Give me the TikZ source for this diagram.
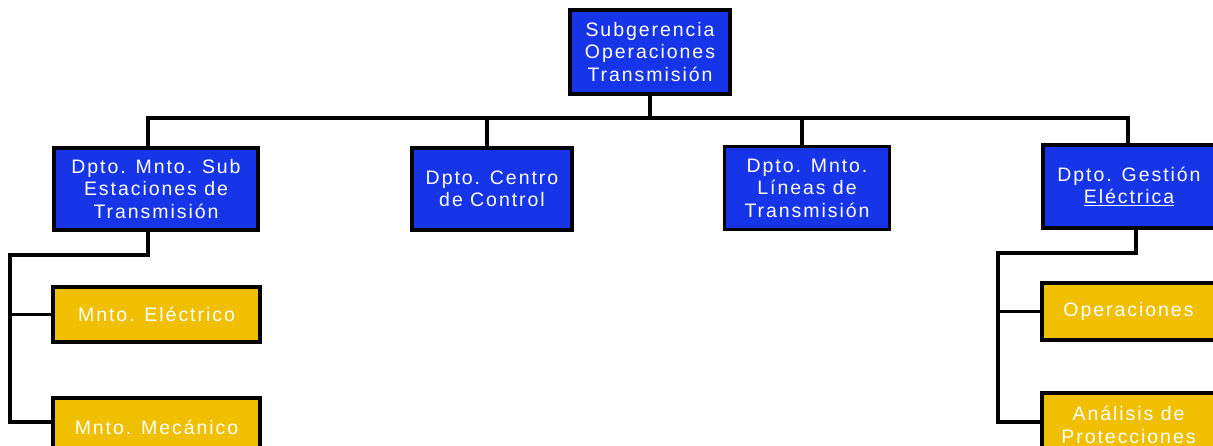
\documentclass[tikz,border=0pt]{standalone}
\usepackage{fontspec}
\setmainfont{Liberation Sans}[LetterSpace=10]
\definecolor{boxblue}{RGB}{22,52,232}
\definecolor{boxyellow}{RGB}{240,192,0}
\begin{document}
\begin{tikzpicture}[x=1pt,y=-1pt,
  box/.style={draw=black,line width=3.6pt,text=white,align=center,inner sep=0pt,
    font=\fontsize{19.5}{22.5}\selectfont},
  bluebox/.style={box,fill=boxblue},
  yellowbox/.style={box,fill=boxyellow},
  conn/.style={line width=3.2pt,line cap=rect}]
\useasboundingbox (0,0) rectangle (1213,446);
% nodes
\node[bluebox,minimum width=160,minimum height=84] (top) at (650,52) {Subgerencia\\Operaciones\\Transmisión};
\node[bluebox,minimum width=204,minimum height=82] (d1) at (156,189) {Dpto. Mnto. Sub\\Estaciones de\\Transmisión};
\node[bluebox,minimum width=160,minimum height=82] (d2) at (492,189) {Dpto. Centro\\de Control};
\node[bluebox,minimum width=165,minimum height=83] (d3) at (807,188) {Dpto. Mnto.\\Líneas de\\Transmisión};
\node[bluebox,minimum width=172,minimum height=83] (d4) at (1129,186.5) {Dpto. Gestión\\\underline{Eléctrica}};
\node[yellowbox,minimum width=207,minimum height=55] (y1) at (156.5,314.5) {Mnto. Eléctrico};
\node[yellowbox,minimum width=207,minimum height=58] (y2) at (156.5,427) {Mnto. Mecánico};
\node[yellowbox,minimum width=173,minimum height=57] (y3) at (1128.5,311.5) {Operaciones};
\node[yellowbox,minimum width=173,minimum height=64] (y4) at (1128.5,425) {Análisis de\\Protecciones};
% coordinates
\coordinate (bus) at (650,118);
\coordinate (s1) at (148,118);
\coordinate (s2) at (487,118);
\coordinate (s3) at (802,118);
\coordinate (s4) at (1128,118);
\coordinate (l1) at (148,255);
\coordinate (l2) at (10,255);
\coordinate (l3) at (10,422);
\coordinate (r1) at (1136,253);
\coordinate (r2) at (998,253);
\coordinate (r3) at (998,422);
% connectors
\draw[conn] (top.south) -- (bus);
\draw[conn] (s1) -- (s4);
\draw[conn] (s1) -- (s1 |- d1.north);
\draw[conn] (s2) -- (s2 |- d2.north);
\draw[conn] (s3) -- (s3 |- d3.north);
\draw[conn] (s4) -- (s4 |- d4.north);
\draw[conn] (l1 |- d1.south) -- (l1) -- (l2) -- (l3) -- (y2.west |- l3);
\draw[conn] (l2 |- y1.west) -- (y1.west);
\draw[conn] (r1 |- d4.south) -- (r1) -- (r2) -- (r3) -- (y4.west |- r3);
\draw[conn] (r2 |- y3.west) -- (y3.west);
\end{tikzpicture}
\end{document}
